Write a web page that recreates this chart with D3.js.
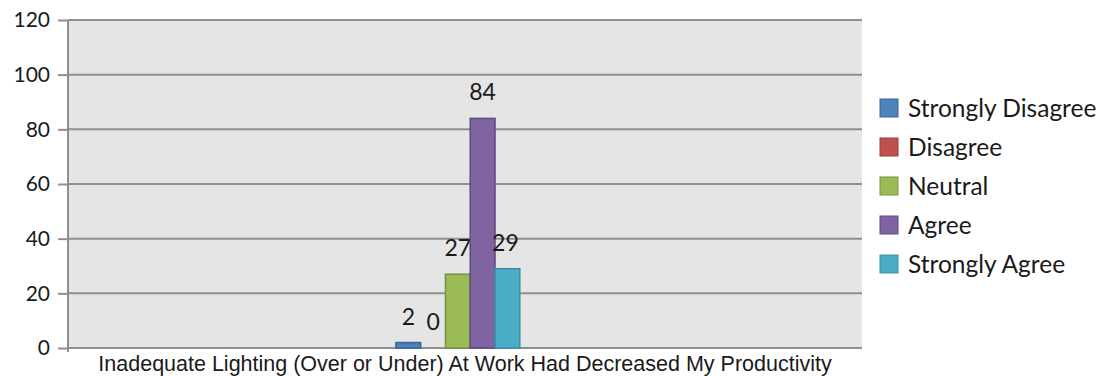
<!DOCTYPE html>
<html>
<head>
<meta charset="utf-8">
<script src="https://cdn.jsdelivr.net/npm/d3@7"></script>
<style>
  html, body { margin: 0; padding: 0; background: #fff; }
  svg { display: block; }
</style>
</head>
<body>
<svg id="chart" width="1105" height="376"></svg>
<script>
// Survey responses for a single statement
const categories = ["Inadequate Lighting (Over or Under) At Work Had Decreased My Productivity"];
const seriesNames = ["Strongly Disagree", "Disagree", "Neutral", "Agree", "Strongly Agree"];
const seriesValues = [2, 0, 27, 84, 29];
const yTicks = [0, 20, 40, 60, 80, 100, 120];

const colors = ["#4F81BD", "#C0504D", "#9BBB59", "#8064A2", "#4BACC6"];
const strokes = ["#3A6597", "#9B3C3A", "#78923F", "#5F4A7E", "#3690A8"];

const svg = d3.select("#chart");
const plot = { left: 68, right: 862, top: 20, bottom: 348 };

const y = d3.scaleLinear().domain([0, 120]).range([plot.bottom, plot.top]);
const x = d3.scaleBand().domain(categories).range([plot.left, plot.right]).padding(0);

// Clustered bars occupy a narrow slice of the category band
const inner = d3.scaleBand().domain(seriesNames)
  .range([x.bandwidth() * 0.413, x.bandwidth() * 0.569]).padding(0);

// Plot background
svg.append("rect")
  .attr("x", plot.left).attr("y", plot.top)
  .attr("width", plot.right - plot.left).attr("height", plot.bottom - plot.top)
  .attr("fill", "#e5e5e5");

// Gridlines
svg.append("g").selectAll("line").data(yTicks.filter(d => d > 0)).join("line")
  .attr("x1", plot.left).attr("x2", plot.right)
  .attr("y1", d => y(d)).attr("y2", d => y(d))
  .attr("stroke", "#8f8f8f").attr("stroke-width", 2);

// Y axis
const yAxis = svg.append("g")
  .attr("transform", `translate(${plot.left},0)`)
  .call(d3.axisLeft(y).tickValues(yTicks).tickSize(10).tickPadding(8));
yAxis.select(".domain").attr("stroke", "#8f8f8f").attr("stroke-width", 2)
  .attr("d", `M0,${plot.top}V${plot.bottom + 4}`);
yAxis.selectAll(".tick line").attr("stroke", "#8f8f8f").attr("stroke-width", 2);
yAxis.selectAll(".tick text")
  .attr("font-family", "Lato, 'Open Sans', sans-serif")
  .attr("font-size", 21).attr("fill", "#1a1a1a");

// X axis
const xAxis = svg.append("g")
  .attr("transform", `translate(0,${plot.bottom})`)
  .call(d3.axisBottom(x).tickSize(0).tickPadding(8));
xAxis.select(".domain").attr("stroke", "#8f8f8f").attr("stroke-width", 2)
  .attr("d", `M${plot.left},0H${plot.right}`);
xAxis.selectAll(".tick text")
  .attr("font-family", "'Liberation Sans', Arial, sans-serif")
  .attr("font-size", 21.5).attr("fill", "#1a1a1a");

// Bars
const bars = svg.append("g");
seriesNames.forEach((name, i) => {
  const bx = x(categories[0]) + inner(name);
  const v = seriesValues[i];
  if (v > 0) {
    bars.append("rect")
      .attr("x", bx).attr("y", y(v))
      .attr("width", inner.bandwidth()).attr("height", y(0) - y(v))
      .attr("fill", colors[i]).attr("stroke", strokes[i]).attr("stroke-width", 1.5);
  }
  bars.append("text")
    .attr("x", bx + inner.bandwidth() / 2 + (i === 4 ? -2 : 0))
    .attr("y", y(v) - 18)
    .attr("text-anchor", "middle")
    .attr("font-family", "Lato, 'Open Sans', sans-serif")
    .attr("font-size", 23).attr("fill", "#1a1a1a")
    .text(v);
});

// Legend
const legend = svg.append("g").attr("transform", "translate(880,99)");
seriesNames.forEach((name, i) => {
  const row = legend.append("g").attr("transform", `translate(0,${i * 39})`);
  row.append("rect").attr("x", 0).attr("y", 0).attr("width", 18).attr("height", 18)
    .attr("fill", colors[i]).attr("stroke", strokes[i]).attr("stroke-width", 1);
  row.append("text").attr("x", 28).attr("y", 9).attr("dy", "0.35em")
    .attr("font-family", "Lato, 'Open Sans', sans-serif")
    .attr("font-size", 24.5).attr("fill", "#1a1a1a")
    .text(name);
});
</script>
</body>
</html>
